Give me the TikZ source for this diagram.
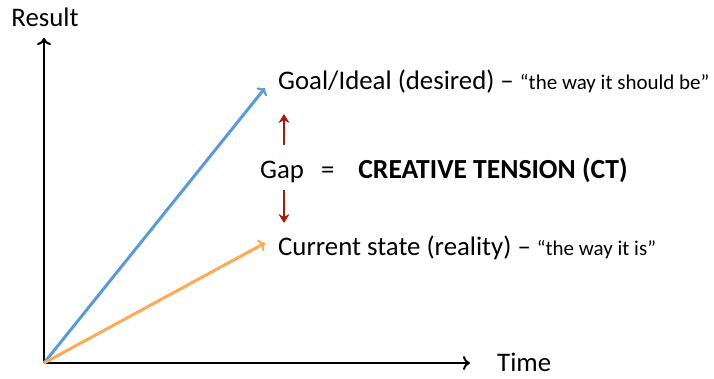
\documentclass[tikz,border=0pt]{standalone}
\usepackage{fontspec}
\setmainfont{Carlito}
\usetikzlibrary{arrows.meta}
\definecolor{blueline}{HTML}{5B9BD5}
\definecolor{orangeline}{HTML}{FBAA55}
\definecolor{gapred}{HTML}{A31A0E}
\newcommand{\bigtxt}{\fontsize{26.8}{30}\selectfont}
\newcommand{\smalltxt}{\fontsize{21}{24}\selectfont}
\newcommand{\boldtxt}{\fontsize{27.6}{30}\selectfont\bfseries}
\begin{document}
\begin{tikzpicture}[x=1pt,y=-1pt,
  axis/.style={line width=2pt, -{To[length=7pt,width=14pt,line width=2pt]}},
  vec/.style={line width=3pt, -{To[length=6pt,width=13pt,line width=2.2pt]}},
  gaparrow/.style={line width=2.8pt, gapred, -{Stealth[length=9pt,width=11pt,inset=3pt]}},
  lbl/.style={inner sep=0pt, font=\bigtxt}]
\useasboundingbox (0,0) rectangle (714,378);
\coordinate (O) at (44,363);
\coordinate (ytop) at (44,38);
\coordinate (xend) at (470,363);
\coordinate (goalpt) at (265,88);
\coordinate (curpt) at (265,243);
\draw[axis] (O) -- (ytop);
\draw[axis] (O) -- (xend);
\draw[vec, blueline] (O) -- (goalpt);
\draw[vec, orangeline] (O) -- (curpt);
\node[lbl] (result) at (45,17) {Result};
\node[lbl, anchor=west] (time) at (497,362) {Time};
\node[lbl, anchor=west] (goal) at (278,82) {Goal/Ideal (desired) – {\smalltxt “the way it should be”}};
\node[lbl, anchor=west] (cur) at (278,248) {Current state (reality) – {\smalltxt “the way it is”}};
\node[lbl, anchor=west] (gap) at (260,170) {Gap\hspace{17pt}=\hspace{24pt}{\boldtxt CREATIVE TENSION (CT)}};
\coordinate (upA) at (284,145);
\coordinate (upB) at (284,114);
\coordinate (dnA) at (284,190);
\coordinate (dnB) at (284,223);
\draw[gaparrow] (upA) -- (upB);
\draw[gaparrow] (dnA) -- (dnB);
\end{tikzpicture}
\end{document}
